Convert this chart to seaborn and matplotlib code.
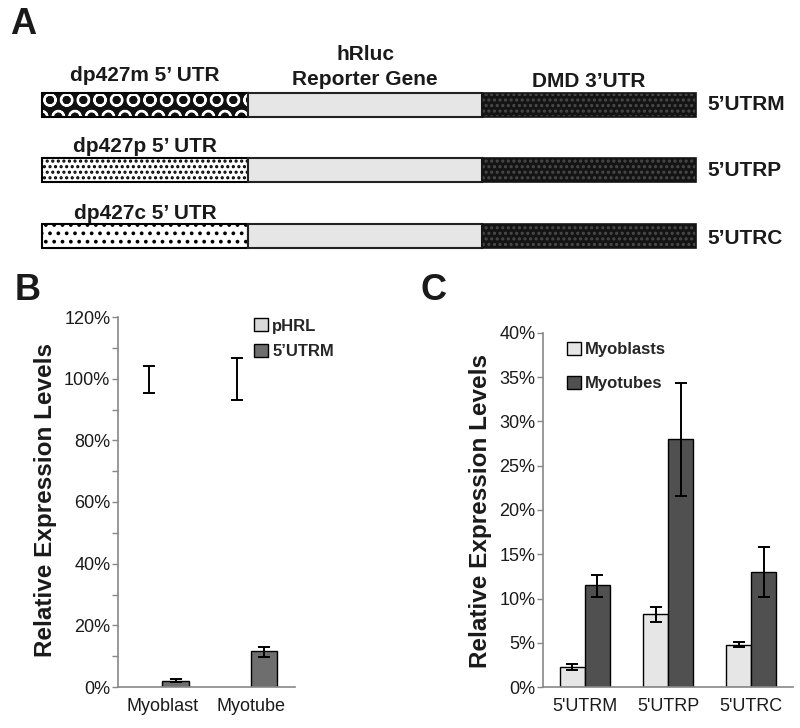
import pandas as pd
import matplotlib
matplotlib.use("Agg")
import matplotlib.pyplot as plt
from matplotlib.patches import Rectangle
from matplotlib.ticker import PercentFormatter, MultipleLocator
import seaborn as sns

sns.set_style("white")
plt.rcParams["font.family"] = ["Liberation Sans", "DejaVu Sans"]
plt.rcParams["hatch.linewidth"] = 1.5

# --- Panel A: reporter constructs (schematic) ---
construct_names = ["5’UTRM", "5’UTRP", "5’UTRC"]
utr_names = ["dp427m 5’ UTR", "dp427p 5’ UTR", "dp427c 5’ UTR"]
utr_hatch = ["O", "...", ".."]
utr_face = ["#111111", "white", "white"]
utr_hatch_color = ["white", "black", "black"]

# --- Panel B ---
cells_b = ["Myoblast", "Myotube"]
series_b = ["pHRL", "5’UTRM"]
phrl_vals = [100, 100]
phrl_lo = [95.4, 93.0]
phrl_hi = [104.2, 106.6]
utrm_vals = [2.1, 11.6]
utrm_lo = [1.6, 9.8]
utrm_hi = [2.6, 13.0]

# --- Panel C ---
constructs_c = ["5'UTRM", "5'UTRP", "5'UTRC"]
series_c = ["Myoblasts", "Myotubes"]
myoblast_vals = [2.25, 8.2, 4.8]
myoblast_lo = [1.95, 7.3, 4.5]
myoblast_hi = [2.55, 9.05, 5.1]
myotube_vals = [11.5, 28.0, 13.0]
myotube_lo = [10.2, 21.6, 10.2]
myotube_hi = [12.7, 34.3, 15.8]

TXT = "#1a1a1a"
GRID = "#888888"

fig = plt.figure(figsize=(8, 7.28), dpi=100)

# panel A drawn in pixel-like coordinates
ax_a = fig.add_axes([0, 1 - 260 / 728, 1, 260 / 728])
ax_a.set_xlim(0, 800)
ax_a.set_ylim(260, 0)
ax_a.axis("off")

x0, w_utr, w_luc, w_dmd = 42, 206, 234, 214
row_y = [105, 169.5, 236]
label_base = [81, 152, 219]
name_base = [110, 176, 244]
h = 24
for i, yc in enumerate(row_y):
    top = yc - h / 2
    # 5' UTR
    ax_a.add_patch(Rectangle((x0, top), w_utr, h, facecolor=utr_face[i],
                             edgecolor=utr_hatch_color[i], hatch=utr_hatch[i], linewidth=0))
    ax_a.add_patch(Rectangle((x0, top), w_utr, h, fill=False, edgecolor="black", linewidth=1.5))
    # hRluc
    ax_a.add_patch(Rectangle((x0 + w_utr, top), w_luc, h, facecolor="#e6e6e6",
                             edgecolor="#222222", linewidth=1.5))
    # DMD 3'UTR
    xd = x0 + w_utr + w_luc
    ax_a.add_patch(Rectangle((xd, top), w_dmd, h, facecolor="#141414",
                             edgecolor="#4a4a4a", hatch="...", linewidth=0))
    ax_a.add_patch(Rectangle((xd, top), w_dmd, h, fill=False, edgecolor="#141414", linewidth=1.2))
    ax_a.text(x0 + w_utr / 2, label_base[i], utr_names[i], ha="center", va="baseline",
              fontsize=15, fontweight="bold", color=TXT)
    ax_a.text(707, name_base[i], construct_names[i], ha="left", va="baseline",
              fontsize=15, fontweight="bold", color=TXT)

ax_a.text(x0 + w_utr + w_luc / 2, 60, "hRluc", ha="center", va="baseline",
          fontsize=15, fontweight="bold", color=TXT)
ax_a.text(x0 + w_utr + w_luc / 2, 85, "Reporter Gene", ha="center", va="baseline",
          fontsize=15, fontweight="bold", color=TXT)
ax_a.text(x0 + w_utr + w_luc + w_dmd / 2, 87, "DMD 3’UTR", ha="center", va="baseline",
          fontsize=15, fontweight="bold", color=TXT)


def style_axis(ax, ymax, major, minor, ncat):
    ax.set_ylim(0, ymax)
    ax.set_xlim(-0.5, ncat - 0.5)
    ax.yaxis.set_major_locator(MultipleLocator(major))
    ax.yaxis.set_minor_locator(MultipleLocator(minor))
    ax.yaxis.set_major_formatter(PercentFormatter(100, decimals=0))
    ax.set_xticks([i - 0.5 for i in range(ncat + 1)], minor=True)
    ax.tick_params(axis="x", which="major", length=0, pad=8, labelsize=13, labelcolor=TXT)
    ax.tick_params(axis="x", which="minor", length=4, width=1, color=GRID, direction="out")
    ax.tick_params(axis="y", which="both", length=4, width=1, color=GRID, direction="out",
                   left=True, pad=1.5, labelsize=13, labelcolor=TXT)
    for s in ["top", "right"]:
        ax.spines[s].set_visible(False)
    for s in ["left", "bottom"]:
        ax.spines[s].set_color(GRID)
        ax.spines[s].set_linewidth(1.2)
    ax.set_xlabel("")
    ax.set_ylabel("Relative Expression Levels", fontsize=17.5, fontweight="bold", color=TXT)


def add_errors(ax, lows, highs):
    for cont, lo, hi in zip(ax.containers, lows, highs):
        xs = [b.get_x() + b.get_width() / 2 for b in cont]
        ys = [b.get_height() for b in cont]
        yerr = [[y - l for y, l in zip(ys, lo)], [u - y for y, u in zip(ys, hi)]]
        ax.errorbar(xs, ys, yerr=yerr, fmt="none", ecolor="black",
                    elinewidth=1.4, capsize=4, capthick=1.4, zorder=5)


def relegend(ax, anchor, spacing):
    leg = ax.get_legend()
    handles = leg.legend_handles
    labels = [t.get_text() for t in leg.get_texts()]
    leg.remove()
    ax.legend(handles, labels, loc="upper left", bbox_to_anchor=anchor, frameon=False,
              borderpad=0, borderaxespad=0, handlelength=0.85, handleheight=0.85,
              handletextpad=0.25, labelspacing=spacing,
              prop={"size": 12, "weight": "bold"})


# --- Panel B ---
ax_b = fig.add_axes([118 / 800, 1 - 687 / 728, 177 / 800, 370 / 728])
df_b = pd.DataFrame({
    "cell": cells_b * 2,
    "series": [series_b[0]] * 2 + [series_b[1]] * 2,
    "value": phrl_vals + utrm_vals,
})
sns.barplot(data=df_b, x="cell", y="value", hue="series", hue_order=series_b,
            palette=["#d9d9d9", "#6e6e6e"], width=0.6, errorbar=None,
            edgecolor="black", linewidth=1, ax=ax_b)
add_errors(ax_b, [phrl_lo, utrm_lo], [phrl_hi, utrm_hi])
# pHRL bars do not show in the original figure, only their error bars
for bar in ax_b.containers[0]:
    bar.set_visible(False)
style_axis(ax_b, 120, 20, 10, 2)
ax_b.yaxis.set_label_coords(-0.345, 0.505)
relegend(ax_b, (0.768, 0.997), 0.6)

# --- Panel C ---
ax_c = fig.add_axes([543 / 800, 1 - 687 / 728, 250 / 800, 354 / 728])
df_c = pd.DataFrame({
    "construct": constructs_c * 2,
    "series": [series_c[0]] * 3 + [series_c[1]] * 3,
    "value": myoblast_vals + myotube_vals,
})
sns.barplot(data=df_c, x="construct", y="value", hue="series", hue_order=series_c,
            palette=["#e6e6e6", "#505050"], width=0.6, errorbar=None,
            edgecolor="black", linewidth=1, ax=ax_c)
add_errors(ax_c, [myoblast_lo, myotube_lo], [myoblast_hi, myotube_hi])
style_axis(ax_c, 40, 5, 5, 3)
ax_c.yaxis.set_label_coords(-0.204, 0.497)
relegend(ax_c, (0.096, 0.975), 1.1)

# panel letters
for letter, px, py in [("A", 10, 25), ("B", 15, 291), ("C", 420, 291)]:
    fig.text(px / 800, 1 - py / 728, letter, fontsize=26, fontweight="bold",
             ha="left", va="center", color=TXT)

fig.savefig("out.png", dpi=100)
